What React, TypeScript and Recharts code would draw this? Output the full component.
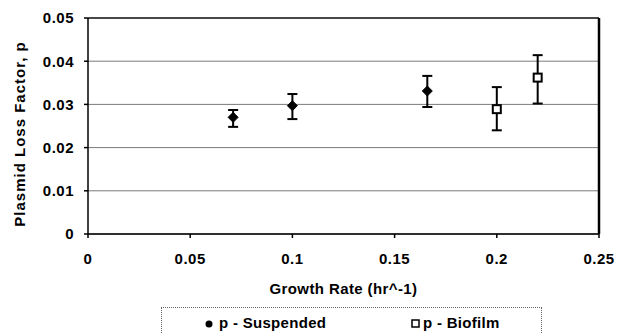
import React from 'react';
import {
  ScatterChart,
  Scatter,
  XAxis,
  YAxis,
  CartesianGrid,
  ErrorBar,
  ReferenceLine,
  Legend,
  Label,
} from 'recharts';

// growth rate (hr^-1) and plasmid loss factor p
const suspendedX = [0.071, 0.1, 0.166];
const suspendedP = [0.027, 0.0297, 0.0331];
const suspendedLow = [0.0248, 0.0266, 0.0294];
const suspendedHigh = [0.0287, 0.0324, 0.0366];

const biofilmX = [0.2, 0.22];
const biofilmP = [0.0289, 0.0362];
const biofilmLow = [0.024, 0.0302];
const biofilmHigh = [0.034, 0.0414];

const xTicks = [0, 0.05, 0.1, 0.15, 0.2, 0.25];
const yTicks = [0, 0.01, 0.02, 0.03, 0.04, 0.05];

const font = 'Arial, "Liberation Sans", Helvetica, sans-serif';

const build = (xs: number[], ps: number[], lo: number[], hi: number[]) =>
  xs.map((x, i) => ({ x, p: ps[i], err: [ps[i] - lo[i], hi[i] - ps[i]] }));

const suspended = build(suspendedX, suspendedP, suspendedLow, suspendedHigh);
const biofilm = build(biofilmX, biofilmP, biofilmLow, biofilmHigh);

const Diamond = (props: any) => {
  const { cx, cy } = props;
  const r = 5;
  return (
    <polygon
      points={`${cx},${cy - r} ${cx + r},${cy} ${cx},${cy + r} ${cx - r},${cy}`}
      fill="#000"
      stroke="#000"
    />
  );
};

const OpenSquare = (props: any) => {
  const { cx, cy } = props;
  return <rect x={cx - 4} y={cy - 4} width={8} height={8} fill="#fff" stroke="#000" strokeWidth={2} />;
};

const YLabel = (props: any) => {
  const { viewBox } = props;
  const x = viewBox.x + 19;
  const y = viewBox.y + viewBox.height / 2 + 8;
  return (
    <text
      x={x}
      y={y}
      transform={`rotate(-90, ${x}, ${y})`}
      textAnchor="middle"
      dominantBaseline="central"
      fontFamily={font}
      fontWeight="bold"
      fontSize={15}
      letterSpacing={1}
      fill="#000"
    >
      Plasmid Loss Factor, p
    </text>
  );
};

const LegendBox = () => (
  <div style={{ position: 'relative', width: '100%', height: '100%', fontFamily: font, fontWeight: 'bold', fontSize: 15 }}>
    <svg width={12} height={12} style={{ position: 'absolute', left: 41, top: 10 }}>
      <circle cx={6} cy={6} r={3.5} fill="#000" />
    </svg>
    <span style={{ position: 'absolute', left: 57, top: 6, letterSpacing: 0.3 }}>p - Suspended</span>
    <svg width={12} height={12} style={{ position: 'absolute', left: 248, top: 10 }}>
      <rect x={2} y={2} width={7} height={7} fill="#fff" stroke="#000" strokeWidth={1.5} />
    </svg>
    <span style={{ position: 'absolute', left: 261, top: 6, letterSpacing: 0.3 }}>p - Biofilm</span>
  </div>
);

export default function App() {
  return (
    <div style={{ position: 'absolute', left: 0, top: 0, background: '#fff' }}>
      <ScatterChart width={618} height={333} margin={{ top: 18, right: 19, left: 0, bottom: 39 }}>
        <CartesianGrid vertical={false} stroke="#7a7a7a" />
        <XAxis
          type="number"
          dataKey="x"
          domain={[0, 0.25]}
          ticks={xTicks}
          tickFormatter={(v: number) => String(v)}
          height={60}
          stroke="#000"
          strokeWidth={1.5}
          tickSize={4}
          tickMargin={15}
          tick={{ fill: '#000', fontSize: 15, fontWeight: 'bold', fontFamily: font, letterSpacing: 0.5 }}
        >
          <Label
            value="Growth Rate (hr^-1)"
            position="insideBottom"
            offset={0}
            style={{ fill: '#000', fontSize: 15, fontWeight: 'bold', fontFamily: font, letterSpacing: 0.4 }}
          />
        </XAxis>
        <YAxis
          type="number"
          dataKey="p"
          domain={[0, 0.05]}
          ticks={yTicks}
          tickFormatter={(v: number) => String(v)}
          width={88}
          stroke="#000"
          strokeWidth={1.5}
          tickSize={4}
          tickMargin={10}
          tick={{ fill: '#000', fontSize: 15, fontWeight: 'bold', fontFamily: font, letterSpacing: 0.5 }}
          label={<YLabel />}
        />
        <ReferenceLine y={0.05} stroke="#222" strokeWidth={1.5} />
        <ReferenceLine x={0.25} stroke="#000" strokeWidth={2.5} />
        <Scatter name="p - Suspended" data={suspended} shape={<Diamond />} isAnimationActive={false}>
          <ErrorBar dataKey="err" direction="y" width={5} stroke="#000" strokeWidth={2} />
        </Scatter>
        <Scatter name="p - Biofilm" data={biofilm} shape={<OpenSquare />} isAnimationActive={false}>
          <ErrorBar dataKey="err" direction="y" width={5} stroke="#000" strokeWidth={2} />
        </Scatter>
        <Legend
          layout="horizontal"
          verticalAlign="middle"
          align="center"
          content={<LegendBox />}
          wrapperStyle={{ left: 161, top: 307, width: 381, height: 40, border: '1px dotted #666', boxSizing: 'border-box' }}
        />
      </ScatterChart>
    </div>
  );
}
